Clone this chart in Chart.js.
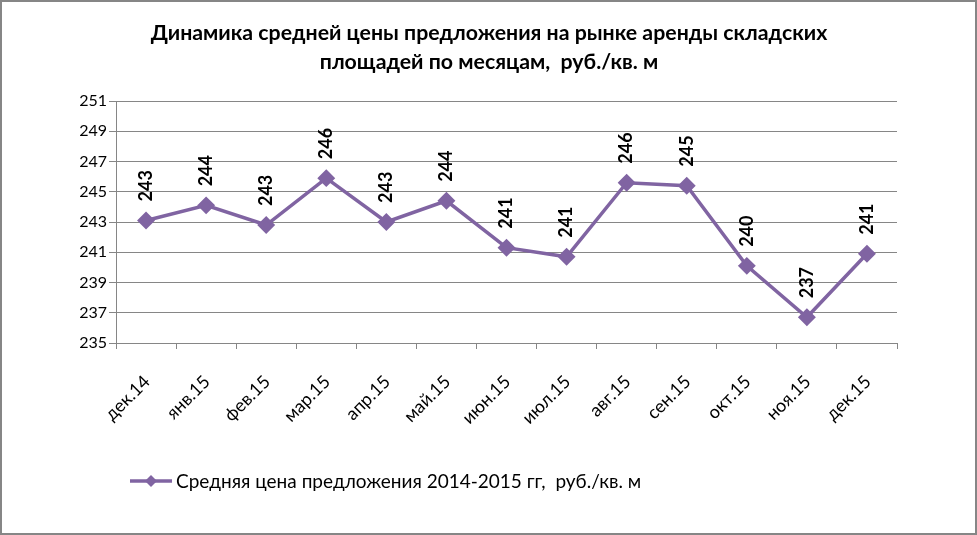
<!DOCTYPE html>
<html>
<head>
<meta charset="utf-8">
<script src="https://cdn.jsdelivr.net/npm/chart.js@4"></script>
<style>
  html, body { margin: 0; padding: 0; background: #fff; }
  #wrap { width: 977px; height: 535px; }
</style>
</head>
<body>
<div id="wrap"><canvas id="chart" width="977" height="535"></canvas></div>
<script>
const months = ["дек.14", "янв.15", "фев.15", "мар.15", "апр.15", "май.15", "июн.15",
  "июл.15", "авг.15", "сен.15", "окт.15", "ноя.15", "дек.15"];
const prices = [243.1, 244.1, 242.8, 245.9, 243.0, 244.4, 241.3, 240.7, 245.6, 245.4, 240.1, 236.7, 240.9];
const seriesName = "Средняя цена предложения 2014-2015 гг,  руб./кв. м";
const titleLines = ["Динамика средней цены предложения на рынке аренды складских",
  "площадей по месяцам,  руб./кв. м"];

const FONT = "Lato, 'Open Sans', sans-serif";
const PURPLE = "#8064A2";
const GRID = "#868686";

const decor = {
  id: "decor",
  afterDatasetsDraw(chart) {
    const ctx = chart.ctx;
    const meta = chart.getDatasetMeta(0);
    ctx.save();
    ctx.fillStyle = "#000";
    ctx.font = "bold 18px " + FONT;
    ctx.textAlign = "left";
    ctx.textBaseline = "middle";
    meta.data.forEach((pt, i) => {
      ctx.save();
      ctx.translate(pt.x, pt.y - 19);
      ctx.rotate(-Math.PI / 2);
      ctx.fillText(String(Math.round(prices[i])), 0, 0);
      ctx.restore();
    });
    ctx.restore();
  },
  afterDraw(chart) {
    const ctx = chart.ctx;
    ctx.save();
    // title
    ctx.fillStyle = "#000";
    ctx.font = "bold 21.3px " + FONT;
    ctx.textAlign = "center";
    ctx.textBaseline = "middle";
    ctx.fillText(titleLines[0], 489, 33);
    ctx.fillText(titleLines[1], 489, 62);
    // legend
    ctx.strokeStyle = PURPLE;
    ctx.lineWidth = 3.5;
    ctx.beginPath();
    ctx.moveTo(130, 481);
    ctx.lineTo(172, 481);
    ctx.stroke();
    ctx.fillStyle = PURPLE;
    ctx.beginPath();
    ctx.moveTo(151, 475);
    ctx.lineTo(157, 481);
    ctx.lineTo(151, 487);
    ctx.lineTo(145, 481);
    ctx.closePath();
    ctx.fill();
    ctx.fillStyle = "#000";
    ctx.font = "19px " + FONT;
    ctx.textAlign = "left";
    ctx.fillText(seriesName, 176, 482);
    // outer border
    ctx.strokeStyle = GRID;
    ctx.lineWidth = 2;
    ctx.strokeRect(1, 1, 975, 533);
    ctx.restore();
  }
};

new Chart(document.getElementById("chart"), {
  type: "line",
  data: {
    labels: months,
    datasets: [{
      label: seriesName,
      data: prices,
      borderColor: PURPLE,
      backgroundColor: PURPLE,
      borderWidth: 3.5,
      pointStyle: "rectRot",
      pointRadius: 6.5,
      pointHoverRadius: 6.5,
      tension: 0
    }]
  },
  options: {
    responsive: false,
    animation: false,
    layout: { padding: { top: 101, right: 80, bottom: 0, left: 0 } },
    plugins: {
      legend: { display: false },
      title: { display: false },
      tooltip: { enabled: false }
    },
    scales: {
      x: {
        offset: true,
        afterFit(scale) { scale.height = 192; },
        grid: { offset: true, drawOnChartArea: false, drawTicks: true, tickLength: 6, color: GRID },
        border: { display: true, color: GRID, width: 1 },
        ticks: {
          color: "#000",
          font: { family: FONT, size: 18 },
          minRotation: 45,
          maxRotation: 45,
          labelOffset: 1,
          padding: 22,
          autoSkip: false
        }
      },
      y: {
        min: 235,
        max: 251,
        afterFit(scale) { scale.width = 116; },
        grid: { color: GRID, tickLength: 7, lineWidth: 1 },
        border: { display: true, color: GRID, width: 1 },
        ticks: {
          stepSize: 2,
          color: "#000",
          padding: 2,
          font: { family: FONT, size: 16 }
        }
      }
    }
  },
  plugins: [decor]
});
</script>
</body>
</html>
